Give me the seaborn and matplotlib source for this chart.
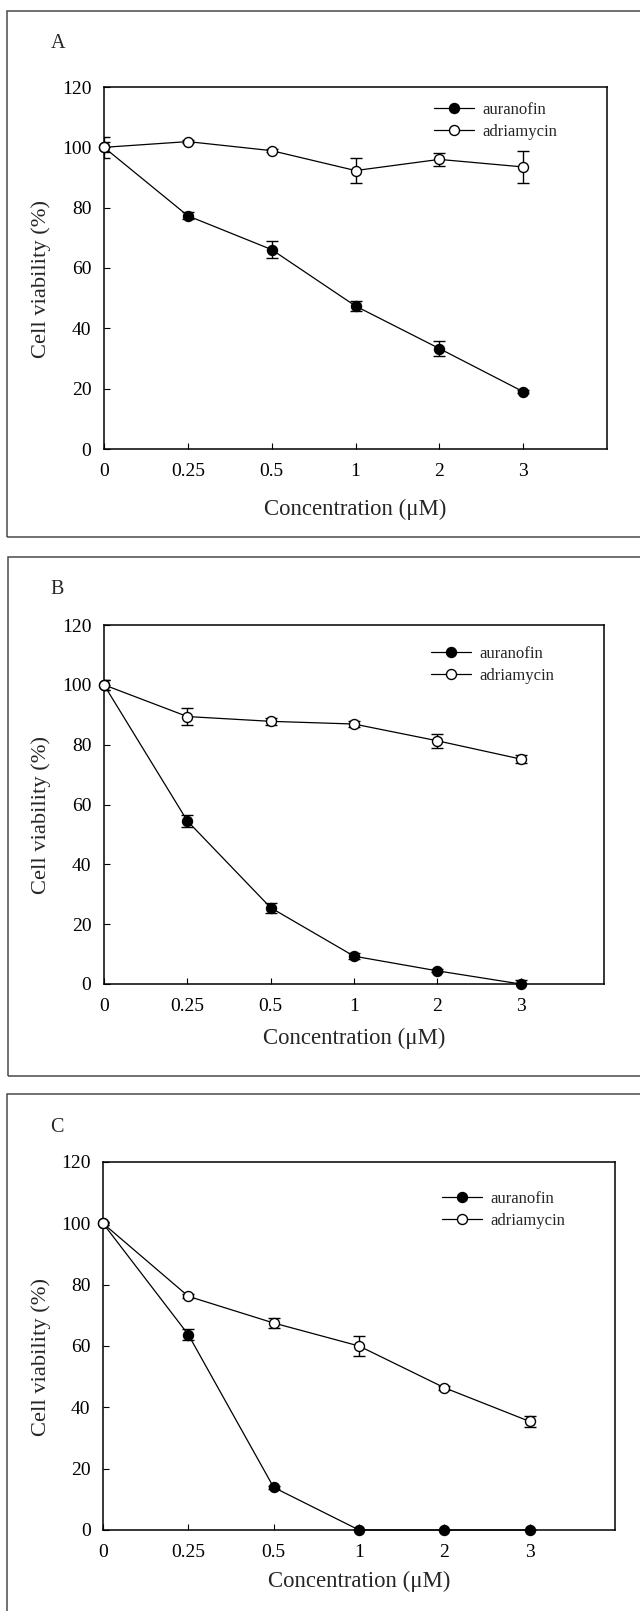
import matplotlib
matplotlib.use("Agg")
import matplotlib.pyplot as plt
from matplotlib.patches import Rectangle
from matplotlib.lines import Line2D
import seaborn as sns
import numpy as np
import pandas as pd

sns.set_style("ticks")
plt.rcParams['font.family'] = ['Liberation Serif', 'DejaVu Serif']

# ---------------- data ----------------
conc_labels = ['0', '0.25', '0.5', '1', '2', '3']

A_auranofin = [100, 77.3, 66.1, 47.4, 33.3, 19.0]
A_auranofin_err = [1.7, 1.1, 2.8, 1.5, 2.5, 0.4]
A_adriamycin = [100, 101.9, 98.9, 92.3, 96.0, 93.5]
A_adriamycin_err = [3.5, 0.6, 0.6, 4.1, 2.2, 5.4]

B_auranofin = [100, 54.5, 25.5, 9.3, 4.4, 0.0]
B_auranofin_err = [1.6, 2.1, 1.7, 1.1, 0.5, 1.2]
B_adriamycin = [100, 89.4, 87.8, 86.9, 81.3, 75.2]
B_adriamycin_err = [1.6, 2.7, 1.2, 1.0, 2.4, 1.4]

C_auranofin = [100, 63.7, 13.9, 0.0, 0.0, 0.0]
C_auranofin_err = [0.4, 1.85, 0.5, 0.0, 0.0, 0.0]
C_adriamycin = [100, 76.2, 67.5, 60.0, 46.4, 35.4]
C_adriamycin_err = [0.4, 0.6, 1.5, 3.4, 0.6, 1.7]

panel_letters = ['A', 'B', 'C']
series_names = ['auranofin', 'adriamycin']
y_ticks = [0, 20, 40, 60, 80, 100, 120]

W, H = 640, 1611
fig = plt.figure(figsize=(W / 100, H / 100), dpi=100)


def fx(px):
    return px / W


def fy(py):
    return 1 - py / H


# panel frame boxes (pixel coords: left, top, bottom)
frames = [(7, 11, 537), (8, 557, 1076), (7, 1094, 1640)]
for (l, t, b) in frames:
    fig.add_artist(Rectangle((fx(l), fy(b)), fx(W + 20 - l), (b - t) / H,
                             transform=fig.transFigure, fill=False,
                             edgecolor='#4a4a4a', linewidth=1.1, clip_on=False))

# axes rectangles (left, right, top, bottom) in pixels
axes_px = [(104, 607, 87, 449), (104, 604, 625, 984), (103, 615, 1162, 1530)]
letter_pos = [(58, 43), (57, 590), (57, 1127)]
xlabel_off = [60, 54, 51]
legend_px = [(434, 102), (431, 646), (442, 1191)]

data = [
    (A_auranofin, A_auranofin_err, A_adriamycin, A_adriamycin_err),
    (B_auranofin, B_auranofin_err, B_adriamycin, B_adriamycin_err),
    (C_auranofin, C_auranofin_err, C_adriamycin, C_adriamycin_err),
]

xpos = np.arange(len(conc_labels))

for i, (l, r, t, b) in enumerate(axes_px):
    ax = fig.add_axes([fx(l), fy(b), (r - l) / W, (b - t) / H])
    aur, aur_e, adr, adr_e = data[i]
    df = pd.DataFrame({'x': np.concatenate([xpos, xpos]),
                       'y': aur + adr,
                       'err': aur_e + adr_e,
                       'drug': [series_names[0]] * 6 + [series_names[1]] * 6})
    for j, name in enumerate(series_names):
        sub = df[df['drug'] == name]
        ax.errorbar(sub['x'], sub['y'], yerr=sub['err'], fmt='none',
                    ecolor='black', elinewidth=1.0, capsize=4.3, capthick=1.0,
                    zorder=2 + j * 2)
        sns.lineplot(data=sub, x='x', y='y', ax=ax, color='black',
                     linewidth=0.9, marker='o', markersize=7.2,
                     markerfacecolor='black' if j == 0 else 'white',
                     markeredgecolor='black', markeredgewidth=1.0,
                     zorder=3 + j * 2, legend=False, clip_on=False)

    ax.set_xlim(0, 6)
    ax.set_ylim(0, 120)
    ax.set_xticks(xpos)
    ax.set_xticklabels(conc_labels)
    ax.set_yticks(y_ticks)
    ax.tick_params(direction='in', length=4, width=0.8, labelsize=14,
                   colors='black')
    ax.tick_params(axis='x', pad=10)
    ax.tick_params(axis='y', pad=9)
    for s in ax.spines.values():
        s.set_linewidth(1.1)
        s.set_color('black')

    ax.set_xlabel('Concentration (μM)', fontsize=16.4)
    ax.xaxis.set_label_coords(0.5, -xlabel_off[i] / (b - t))
    ax.xaxis.label.set_verticalalignment('center')
    ax.set_ylabel('Cell viability (%)', fontsize=16.2)
    ax.yaxis.set_label_coords((41 - l) / (r - l), 0.47)
    ax.yaxis.label.set_verticalalignment('center')

    handles = [Line2D([], [], color='black', linewidth=0.9, marker='o',
                      markersize=7.2, markerfacecolor='black',
                      markeredgecolor='black'),
               Line2D([], [], color='black', linewidth=0.9, marker='o',
                      markersize=7.2, markerfacecolor='white',
                      markeredgecolor='black')]
    lx, ly = legend_px[i]
    ax.legend(handles, series_names, loc='upper left',
              bbox_to_anchor=(fx(lx), fy(ly)),
              bbox_transform=fig.transFigure, frameon=False, fontsize=12,
              handlelength=2.4, handletextpad=0.5, labelspacing=0.35,
              borderpad=0, borderaxespad=0)

    lxp, lyp = letter_pos[i]
    fig.text(fx(lxp), fy(lyp), panel_letters[i], fontsize=14.5,
             ha='center', va='center')

fig.savefig('out.png', dpi=100)
